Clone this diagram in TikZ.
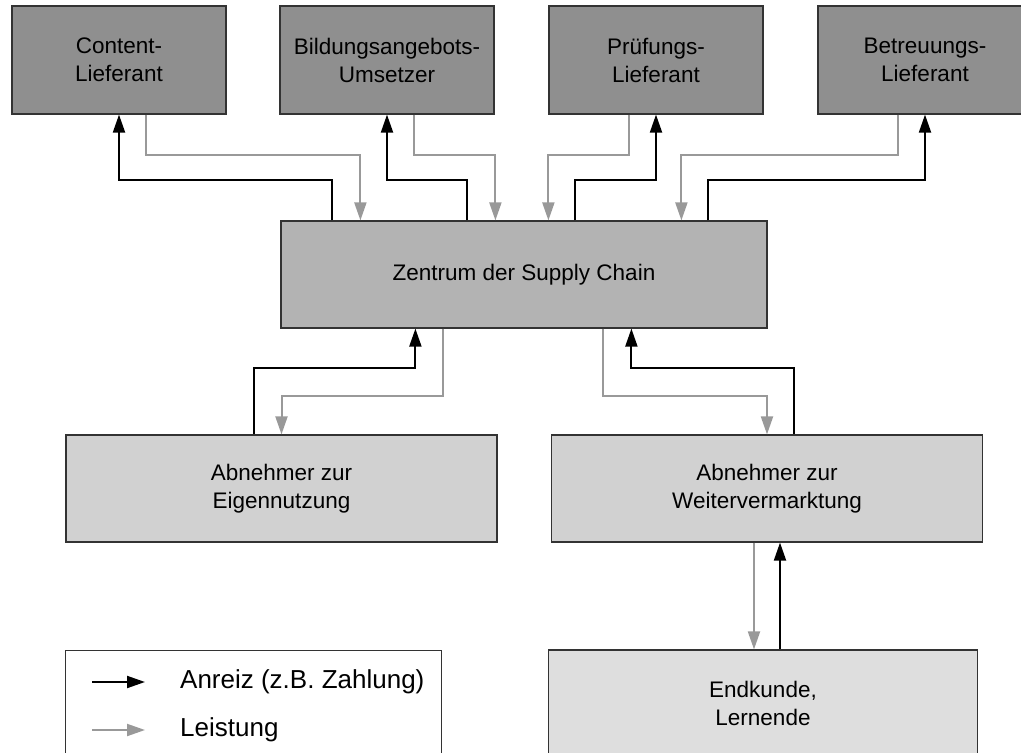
\documentclass[tikz,border=0pt]{standalone}
\usepackage{fontspec}
\setmainfont{Liberation Sans}
\usetikzlibrary{arrows.meta,positioning}
\definecolor{topfill}{HTML}{8F8F8F}
\definecolor{midfill}{HTML}{B3B3B3}
\definecolor{lowfill}{HTML}{D1D1D1}
\definecolor{endfill}{HTML}{DEDEDE}
\definecolor{leistgray}{HTML}{999999}
\definecolor{borderc}{HTML}{333333}
\tikzset{
  boxbase/.style={draw=borderc, line width=1.2pt, rectangle, align=center, inner sep=0pt,
    font=\fontsize{22.5}{28}\selectfont},
  topbox/.style={boxbase, fill=topfill, minimum width=214pt, minimum height=108pt},
  centerbox/.style={boxbase, fill=midfill, minimum width=486pt, minimum height=107pt},
  lowbox/.style={boxbase, fill=lowfill, minimum width=431pt, minimum height=107pt},
  endbox/.style={boxbase, fill=endfill, minimum width=429pt, minimum height=106pt},
  legbox/.style={draw=borderc, line width=1pt, fill=white, minimum width=376pt, minimum height=106pt, inner sep=0pt},
  anr/.style={draw=black, line width=2pt, -{Triangle[length=18pt,width=12pt]}},
  leist/.style={draw=leistgray, line width=2pt, -{Triangle[length=18pt,width=12pt]}, color=leistgray},
  legtext/.style={anchor=west, inner sep=0pt, font=\fontsize{26}{30}\selectfont}
}
\begin{document}
\begin{tikzpicture}[x=1pt,y=-1pt]
\useasboundingbox (0,0) rectangle (1021,753);
\clip (0,0) rectangle (1021,753);
% top suppliers
\node[topbox] (b1) at (119,60) {Content-\\Lieferant};
\node[topbox] (b2) at (387,60) {Bildungsangebots-\\Umsetzer};
\node[topbox] (b3) at (656,60) {Prüfungs-\\Lieferant};
\node[topbox] (b4) at (925,60) {Betreuungs-\\Lieferant};
% center
\node[centerbox] (zc) at (524,274.5) {Zentrum der Supply Chain};
% customers
\node[lowbox] (l) at (281.5,488.5) {Abnehmer zur\\Eigennutzung};
\node[lowbox] (r) at (767,488.5) {Abnehmer zur\\Weitervermarktung};
\node[endbox] (e) at (763,703) {Endkunde,\\Lernende};
% legend
\node[legbox] (leg) at (253,703) {};
\coordinate (la1s) at (92,682);
\coordinate (la1e) at (145,682);
\coordinate (la2s) at (92,730);
\coordinate (la2e) at (145,730);
\node[legtext] (lt1) at (180,682) {Anreiz (z.B. Zahlung)};
\node[legtext] (lt2) at (180,730) {Leistung};
\draw[anr] (la1s) -- (la1e);
\draw[leist] (la2s) -- (la2e);
% top connections
\draw[anr] ([xshift=52pt]zc.north west) -- ++(0pt,40pt) -| (b1.south);
\draw[leist] ([xshift=27pt]b1.south) -- ++(0pt,-40pt) -| ([xshift=80pt]zc.north west);
\draw[anr] ([xshift=187pt]zc.north west) -- ++(0pt,40pt) -| (b2.south);
\draw[leist] ([xshift=27pt]b2.south) -- ++(0pt,-40pt) -| ([xshift=215pt]zc.north west);
\draw[leist] ([xshift=-27pt]b3.south) -- ++(0pt,-40pt) -| ([xshift=268pt]zc.north west);
\draw[anr] ([xshift=295pt]zc.north west) -- ++(0pt,40pt) -| (b3.south);
\draw[leist] ([xshift=-27pt]b4.south) -- ++(0pt,-40pt) -| ([xshift=401pt]zc.north west);
\draw[anr] ([xshift=428pt]zc.north west) -- ++(0pt,40pt) -| (b4.south);
% bottom connections
\draw[anr] ([xshift=-27.5pt]l.north) -- ++(0pt,66pt) -| ([xshift=135pt]zc.south west);
\draw[leist] ([xshift=163pt]zc.south west) -- ++(0pt,-67pt) -| (l.north);
\draw[leist] ([xshift=323pt]zc.south west) -- ++(0pt,-67pt) -| (r.north);
\draw[anr] ([xshift=27pt]r.north) -- ++(0pt,66pt) -| ([xshift=351pt]zc.south west);
% end customer
\draw[leist] ([xshift=-13pt]r.south) -- ([xshift=-13pt]r.south |- e.north);
\draw[anr] ([xshift=13pt]r.south |- e.north) -- ([xshift=13pt]r.south);
\end{tikzpicture}
\end{document}
